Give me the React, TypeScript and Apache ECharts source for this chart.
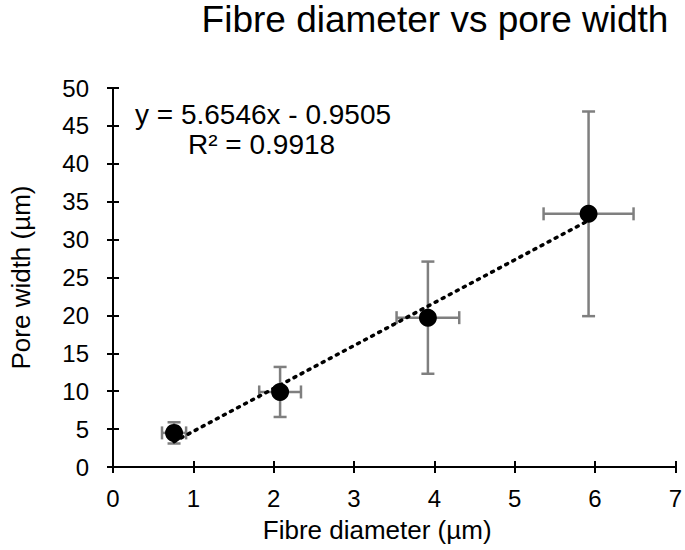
import React, { useEffect, useRef } from "react";
import * as echarts from "echarts";

const fibreDiameter = [0.76, 2.08, 3.92, 5.92];
const poreWidth = [4.5, 9.9, 19.7, 33.4];
const fibreErr = [0.15, 0.26, 0.39, 0.56];
const poreErr = [1.4, 3.3, 7.4, 13.5];
const slope = 5.6546;
const intercept = -0.9505;
const equationText = "y = 5.6546x - 0.9505";
const r2Text = "R² = 0.9918";
const titleText = "Fibre diameter vs pore width";
const xName = "Fibre diameter (µm)";
const yName = "Pore width (µm)";

export default function App() {
  const ref = useRef<HTMLDivElement>(null);
  useEffect(() => {
    if (!ref.current) return;
    document.body.style.margin = "0";
    const chart = echarts.init(ref.current, null, { renderer: "svg" });
    const font = "'Liberation Sans', Arial, sans-serif";
    const xs = [Math.min(...fibreDiameter), Math.max(...fibreDiameter)];
    const trend = xs.map((x) => [x, slope * x + intercept]);
    const errData = fibreDiameter.map((x, i) => [x, poreWidth[i], fibreErr[i], poreErr[i]]);
    const errColor = "#7f7f7f";
    chart.setOption({
      animation: false,
      backgroundColor: "#fff",
      textStyle: { fontFamily: font },
      title: {
        text: titleText,
        left: 430,
        top: -4,
        textAlign: "center",
        textStyle: { fontFamily: font, fontSize: 37, fontWeight: "normal", color: "#000" },
      },
      graphic: [
        {
          type: "text",
          left: 135,
          top: 100,
          style: { text: equationText, font: `28px ${font}`, fill: "#000" },
        },
        {
          type: "text",
          left: 188,
          top: 130,
          style: { text: r2Text, font: `28px ${font}`, fill: "#000" },
        },
      ],
      grid: { left: 108, right: 9, top: 88, bottom: 83, containLabel: false },
      xAxis: [
        {
          type: "value",
          min: 0,
          max: 7,
          interval: 1,
          name: xName,
          nameLocation: "middle",
          nameGap: 50,
          nameTextStyle: { fontFamily: font, fontSize: 26, color: "#000", padding: [0, 34, 0, 0] },
          axisLine: { show: true, onZero: false, lineStyle: { color: "#000", width: 2 } },
          axisTick: { show: true, inside: false, length: 6, lineStyle: { color: "#000", width: 2 } },
          axisLabel: { fontFamily: font, fontSize: 24, color: "#000", margin: 19, showMaxLabel: true },
          splitLine: { show: false },
        },
        {
          type: "value",
          min: 0,
          max: 7,
          interval: 1,
          position: "bottom",
          axisLine: { show: false },
          axisTick: { show: true, inside: true, length: 6, lineStyle: { color: "#000", width: 2 } },
          axisLabel: { show: false },
          splitLine: { show: false },
        },
      ],
      yAxis: [
        {
          type: "value",
          min: 0,
          max: 50,
          interval: 5,
          name: yName,
          nameLocation: "middle",
          nameGap: 79,
          nameTextStyle: { fontFamily: font, fontSize: 26, color: "#000" },
          axisLine: { show: true, onZero: false, lineStyle: { color: "#000", width: 2 } },
          axisTick: { show: true, inside: false, length: 6, lineStyle: { color: "#000", width: 2 } },
          axisLabel: { fontFamily: font, fontSize: 24, color: "#000", margin: 24 },
          splitLine: { show: false },
        },
        {
          type: "value",
          min: 0,
          max: 50,
          interval: 5,
          position: "left",
          axisLine: { show: false },
          axisTick: { show: true, inside: true, length: 6, lineStyle: { color: "#000", width: 2 } },
          axisLabel: { show: false },
          splitLine: { show: false },
        },
      ],
      series: [
        {
          type: "custom",
          xAxisIndex: 0,
          yAxisIndex: 0,
          data: errData,
          z: 1,
          renderItem: (params: any, api: any) => {
            const x = api.value(0);
            const y = api.value(1);
            const ex = api.value(2);
            const ey = api.value(3);
            const left = api.coord([x - ex, y]);
            const right = api.coord([x + ex, y]);
            const top = api.coord([x, y + ey]);
            const bottom = api.coord([x, y - ey]);
            const cap = 6.5;
            const st = { stroke: errColor, lineWidth: 2.5 };
            return {
              type: "group",
              children: [
                { type: "line", shape: { x1: left[0], y1: left[1], x2: right[0], y2: right[1] }, style: st },
                { type: "line", shape: { x1: left[0], y1: left[1] - cap, x2: left[0], y2: left[1] + cap }, style: st },
                { type: "line", shape: { x1: right[0], y1: right[1] - cap, x2: right[0], y2: right[1] + cap }, style: st },
                { type: "line", shape: { x1: top[0], y1: top[1], x2: bottom[0], y2: bottom[1] }, style: st },
                { type: "line", shape: { x1: top[0] - cap, y1: top[1], x2: top[0] + cap, y2: top[1] }, style: st },
                { type: "line", shape: { x1: bottom[0] - cap, y1: bottom[1], x2: bottom[0] + cap, y2: bottom[1] }, style: st },
              ],
            };
          },
        },
        {
          type: "line",
          xAxisIndex: 0,
          yAxisIndex: 0,
          data: trend,
          showSymbol: false,
          symbol: "none",
          z: 2,
          lineStyle: { color: "#000", width: 3.5, type: [2, 6], cap: "round" },
        },
        {
          type: "scatter",
          xAxisIndex: 0,
          yAxisIndex: 0,
          data: fibreDiameter.map((x, i) => [x, poreWidth[i]]),
          symbol: "circle",
          symbolSize: 18,
          z: 3,
          itemStyle: { color: "#000", opacity: 1 },
        },
      ],
    });
    return () => chart.dispose();
  }, []);
  return <div ref={ref} style={{ width: 685, height: 550 }} />;
}
